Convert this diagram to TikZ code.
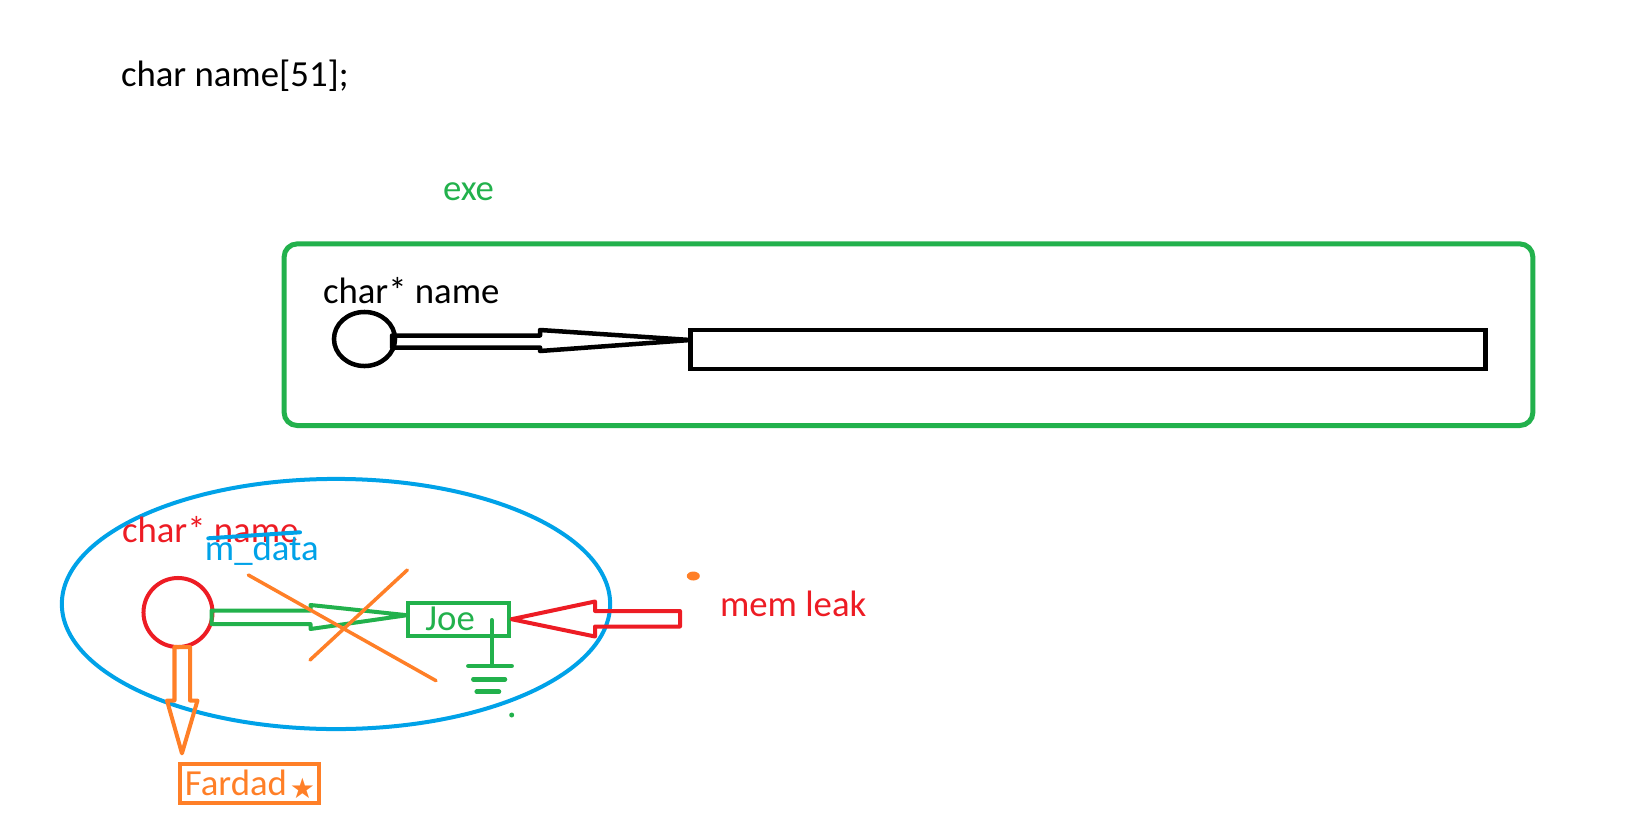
\documentclass[tikz,border=0pt]{standalone}
\usepackage{fontspec}
\setmainfont{Carlito}
\newfontfamily\symfont{DejaVu Sans}
\usetikzlibrary{positioning,calc,shapes.geometric}
\definecolor{pGreen}{HTML}{22B14C}
\definecolor{pBlue}{HTML}{00A2E8}
\definecolor{pRed}{HTML}{ED1C24}
\definecolor{pOrange}{HTML}{FF7F27}

\begin{document}
\begin{tikzpicture}[x=0.01cm,y=-0.01cm,
  every node/.style={font=\fontsize{10.45}{12}\selectfont,outer sep=0},
  lbl/.style={anchor=base west,inner sep=0},
  hollow/.style={line width=0.04cm,line join=round},
  thinline/.style={line width=0.04cm,line cap=round}]
  \useasboundingbox (0,0) rectangle (1635,827);
  \node[lbl] (decl) at (121,86.7) {char name[51];};
  \node[lbl,text=pGreen] (exe) at (443,200) {exe};
  \node[draw=pGreen,line width=0.05cm,rounded corners=0.13cm,minimum width=12.48cm,minimum height=1.815cm] (exebox) at (908.5,334.7) {};
  \node[lbl] (ptrname) at (323,303.3) {char* name};
  \node[ellipse,draw,line width=0.045cm,inner sep=0,minimum width=0.61cm,minimum height=0.54cm] (ptr) at (364.5,339) {};
  \node[draw,line width=0.045cm,inner sep=0,minimum width=7.95cm,minimum height=0.385cm] (buf) at (1088,349.5) {};
  \draw[hollow,line width=0.045cm] ($(ptr.east)+(-3,-3.5)$) -- ++(148,0) -- ++(0,-5.5) -- ($(buf.west)+(0,-9.5)$)
    -- ($(ptr.east)+(145,12)$) -- ++(0,-3.5) -- ++(-148,0) -- cycle;

  \node[ellipse,draw=pBlue,line width=0.04cm,inner sep=0,minimum width=5.48cm,minimum height=2.5cm] (heap) at (336,604) {};
  \node[lbl,text=pRed] (mname) at (122,542.7) {char* name};
  \node[lbl,text=pBlue] (mdata) at (205,560.7) {m\_data};
  \draw[thinline,pBlue] (208.3,538.3) -- (300,532.3);
  \node[circle,draw=pRed,line width=0.04cm,inner sep=0,minimum size=0.69cm] (mptr) at (178,612.5) {};
  \node[draw=pGreen,line width=0.04cm,text=pGreen,align=left,text width=0.655cm,inner xsep=0.175cm,inner ysep=0,minimum height=0.333cm] (joe) at (458.25,619.2) {Joe};
  \node[draw=pOrange,line width=0.04cm,text=pOrange,align=left,text width=1.285cm,inner xsep=0.05cm,inner ysep=0,minimum height=0.39cm] (fardad) at (249.25,783.9) {Fardad\hspace{0.03cm}\makebox[0.18cm][l]{\raisebox{-0.03cm}{\symfont\fontsize{8}{8}\selectfont ★}}};
  \node[lbl,text=pRed] (leak) at (720,616.7) {mem leak};
  \coordinate (leakend) at (680,619);

  \draw[hollow,pGreen] ($(mptr.east)+(-1,-2)$) -- ++(99,0) -- ++(0,-5.5) -- ($(joe.west)+(-1,-4)$)
    -- ($(mptr.east)+(98,16.5)$) -- ++(0,-5) -- ++(-99,0) -- cycle;
  \draw[hollow,pRed] ($(joe.east)+(3,0)$) -- ($(leakend)+(-85,-17.5)$) -- ++(0,9.5) -- ($(leakend)+(0,-8)$)
    -- ++(0,15.5) -- ($(leakend)+(-85,7.5)$) -- ++(0,10) -- cycle;
  \draw[hollow,pOrange] ($(mptr.south)+(-3.5,0)$) -- ++(0,53.5) -- ++(-7.5,0) -- ($(fardad.north west)+(2,-11)$)
    -- ($(mptr.south)+(19.5,53.5)$) -- ++(-7.5,0) -- ++(0,-53.5) -- cycle;

  \draw[thinline,pOrange,line width=0.035cm] (248.3,575) -- (436,680.7) (407.3,570) -- (310,660);
  \draw[thinline,pGreen] (491.7,620) -- (491.7,666);
  \foreach \y/\a/\b in {666/468.3/511.7,679.3/473.3/505,691.7/476.7/499}
    \draw[thinline,pGreen,line width=0.045cm] (\a,\y) -- (\b,\y);
  \fill[pGreen] (511.7,715) circle (0.025cm);
  \fill[pOrange] (693.3,576) ellipse (0.065cm and 0.045cm);
\end{tikzpicture}
\end{document}
